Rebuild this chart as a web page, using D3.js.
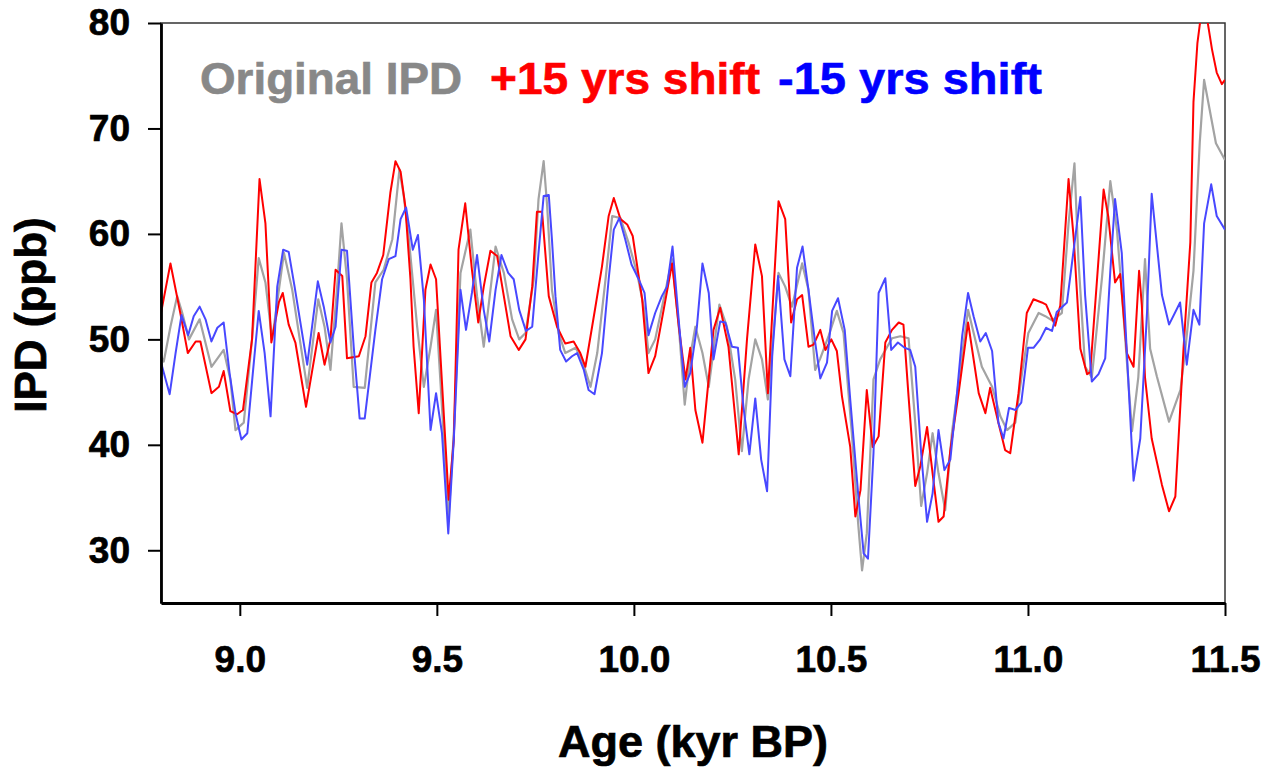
<!DOCTYPE html>
<html>
<head>
<meta charset="utf-8">
<script src="https://cdn.jsdelivr.net/npm/d3@7"></script>
<style>
  body { margin: 0; background: #fff; }
  svg text { font-family: "Liberation Sans", Arial, sans-serif; font-weight: bold; }
</style>
</head>
<body>
<svg id="chart"></svg>
<script>
// IPD records, age in kyr BP
const greyAge = [8.800, 8.807, 8.824, 8.841, 8.854, 8.871, 8.898, 8.928, 8.959, 8.976, 8.989, 9.010, 9.031, 9.048, 9.065, 9.082, 9.112, 9.133, 9.171, 9.199, 9.215, 9.230, 9.247, 9.258, 9.272, 9.289, 9.317, 9.344, 9.365, 9.387, 9.405, 9.416, 9.429, 9.450, 9.467, 9.484, 9.498, 9.513, 9.530, 9.543, 9.560, 9.585, 9.602, 9.619, 9.649, 9.670, 9.691, 9.709, 9.725, 9.746, 9.758, 9.771, 9.780, 9.792, 9.809, 9.826, 9.852, 9.868, 9.890, 9.907, 9.928, 9.945, 9.966, 9.987, 10.008, 10.025, 10.037, 10.054, 10.097, 10.114, 10.129, 10.143, 10.156, 10.174, 10.190, 10.217, 10.236, 10.257, 10.274, 10.291, 10.308, 10.325, 10.340, 10.367, 10.384, 10.401, 10.427, 10.443, 10.460, 10.473, 10.494, 10.515, 10.532, 10.553, 10.569, 10.579, 10.591, 10.608, 10.625, 10.655, 10.676, 10.697, 10.714, 10.729, 10.744, 10.758, 10.773, 10.790, 10.807, 10.848, 10.866, 10.883, 10.909, 10.930, 10.947, 10.968, 10.985, 11.001, 11.027, 11.044, 11.061, 11.086, 11.103, 11.118, 11.128, 11.145, 11.162, 11.188, 11.209, 11.226, 11.242, 11.264, 11.280, 11.297, 11.310, 11.327, 11.358, 11.387, 11.400, 11.420, 11.436, 11.447, 11.477, 11.500];
const greyIPD = [48.4, 47.9, 51.2, 54.1, 52.5, 50.0, 51.9, 47.4, 49.0, 46.2, 41.4, 42.1, 50.0, 57.7, 55.4, 50.0, 58.2, 54.7, 45.4, 53.8, 51.2, 47.1, 55.0, 61.0, 55.7, 45.5, 45.4, 55.4, 56.6, 59.5, 66.1, 63.6, 59.5, 51.2, 45.5, 49.3, 52.8, 43.6, 33.2, 41.1, 56.3, 60.4, 54.1, 49.3, 58.8, 56.3, 51.9, 50.0, 50.6, 55.7, 63.3, 66.9, 62.6, 54.7, 50.6, 48.7, 49.2, 48.1, 45.5, 48.7, 55.7, 61.7, 61.5, 59.1, 56.3, 53.1, 48.7, 50.0, 57.6, 51.2, 43.8, 48.4, 51.2, 48.7, 45.5, 53.3, 51.2, 46.2, 39.4, 46.2, 50.0, 48.1, 44.3, 56.3, 55.0, 53.1, 57.2, 54.7, 47.1, 48.2, 50.3, 52.7, 50.6, 41.1, 32.6, 28.1, 31.6, 46.2, 48.1, 50.1, 50.3, 50.1, 42.1, 34.2, 37.3, 41.1, 37.3, 33.8, 41.1, 52.8, 50.0, 47.4, 45.5, 42.7, 41.4, 42.1, 46.8, 50.6, 52.5, 52.2, 51.8, 52.5, 61.0, 66.7, 57.6, 47.4, 46.4, 55.9, 65.0, 60.3, 52.5, 41.3, 46.4, 57.6, 49.1, 46.5, 42.2, 45.2, 49.3, 56.5, 68.7, 74.6, 68.6, 67.0];

const plusAge = [8.800, 8.824, 8.849, 8.868, 8.888, 8.900, 8.928, 8.947, 8.959, 8.976, 8.993, 9.008, 9.031, 9.050, 9.065, 9.080, 9.099, 9.109, 9.124, 9.141, 9.168, 9.184, 9.200, 9.215, 9.230, 9.243, 9.260, 9.272, 9.302, 9.319, 9.334, 9.348, 9.364, 9.382, 9.395, 9.408, 9.420, 9.433, 9.441, 9.454, 9.471, 9.484, 9.498, 9.513, 9.530, 9.543, 9.555, 9.572, 9.589, 9.605, 9.619, 9.636, 9.653, 9.670, 9.687, 9.708, 9.725, 9.742, 9.754, 9.767, 9.784, 9.805, 9.826, 9.847, 9.864, 9.877, 9.902, 9.919, 9.936, 9.949, 9.966, 9.983, 9.997, 10.021, 10.037, 10.054, 10.097, 10.114, 10.131, 10.143, 10.156, 10.174, 10.202, 10.219, 10.240, 10.266, 10.287, 10.308, 10.325, 10.340, 10.367, 10.384, 10.399, 10.414, 10.427, 10.443, 10.456, 10.473, 10.486, 10.501, 10.515, 10.528, 10.549, 10.562, 10.575, 10.591, 10.606, 10.621, 10.638, 10.655, 10.672, 10.684, 10.697, 10.714, 10.727, 10.744, 10.758, 10.773, 10.786, 10.803, 10.824, 10.848, 10.875, 10.892, 10.904, 10.925, 10.942, 10.955, 10.976, 10.997, 11.014, 11.035, 11.046, 11.069, 11.082, 11.103, 11.116, 11.133, 11.150, 11.158, 11.192, 11.204, 11.221, 11.234, 11.251, 11.268, 11.282, 11.289, 11.297, 11.314, 11.340, 11.358, 11.374, 11.395, 11.412, 11.420, 11.430, 11.440, 11.452, 11.467, 11.479, 11.492, 11.500];
const plusIPD = [52.5, 57.2, 52.5, 48.7, 49.8, 49.8, 44.9, 45.5, 47.0, 43.2, 42.9, 43.3, 50.0, 65.2, 61.0, 49.7, 53.5, 54.4, 51.4, 49.7, 43.6, 47.1, 50.6, 47.6, 50.0, 56.6, 56.0, 48.2, 48.4, 50.3, 55.4, 56.3, 58.0, 63.9, 66.9, 65.9, 62.6, 55.7, 49.3, 43.0, 54.7, 57.1, 55.7, 45.9, 34.8, 40.5, 58.5, 62.9, 56.6, 51.6, 55.0, 58.4, 57.9, 54.1, 50.3, 49.0, 50.0, 55.0, 62.1, 62.1, 54.1, 51.2, 49.6, 49.8, 48.7, 47.4, 53.0, 56.9, 61.7, 63.4, 61.4, 60.9, 59.8, 53.8, 46.8, 48.4, 57.2, 51.2, 46.2, 49.2, 43.3, 40.2, 50.9, 53.0, 49.3, 39.1, 50.0, 59.0, 56.0, 44.9, 63.1, 61.4, 51.6, 53.8, 54.2, 49.3, 49.5, 50.9, 49.0, 50.0, 48.9, 44.6, 39.8, 33.2, 35.7, 45.2, 39.8, 40.8, 49.7, 50.9, 51.6, 51.4, 44.6, 36.1, 38.0, 41.7, 37.3, 32.7, 33.2, 39.5, 44.9, 51.6, 44.9, 43.0, 45.4, 42.1, 39.5, 39.2, 44.9, 52.5, 53.8, 53.5, 53.3, 51.3, 53.2, 65.2, 59.6, 49.1, 46.7, 46.9, 64.2, 61.6, 55.4, 56.2, 48.7, 47.4, 56.5, 53.2, 46.4, 40.6, 36.2, 33.7, 35.1, 49.3, 59.2, 72.5, 78.1, 81.0, 81.0, 77.5, 75.3, 74.2, 74.6];

const minusAge = [8.800, 8.822, 8.837, 8.852, 8.869, 8.883, 8.898, 8.913, 8.928, 8.943, 8.959, 8.974, 8.989, 9.004, 9.019, 9.033, 9.048, 9.063, 9.078, 9.095, 9.110, 9.124, 9.139, 9.171, 9.198, 9.213, 9.230, 9.243, 9.258, 9.272, 9.289, 9.304, 9.317, 9.344, 9.361, 9.378, 9.395, 9.408, 9.422, 9.439, 9.452, 9.467, 9.484, 9.498, 9.513, 9.529, 9.543, 9.560, 9.574, 9.589, 9.602, 9.619, 9.633, 9.649, 9.664, 9.681, 9.695, 9.709, 9.726, 9.742, 9.758, 9.771, 9.784, 9.792, 9.801, 9.813, 9.828, 9.843, 9.856, 9.873, 9.885, 9.900, 9.919, 9.936, 9.949, 9.963, 9.978, 9.994, 10.011, 10.027, 10.037, 10.054, 10.071, 10.084, 10.098, 10.114, 10.129, 10.143, 10.160, 10.174, 10.190, 10.202, 10.219, 10.232, 10.249, 10.264, 10.278, 10.293, 10.308, 10.323, 10.338, 10.351, 10.366, 10.382, 10.397, 10.414, 10.428, 10.443, 10.459, 10.473, 10.490, 10.503, 10.518, 10.535, 10.549, 10.569, 10.583, 10.594, 10.608, 10.621, 10.638, 10.653, 10.670, 10.687, 10.701, 10.714, 10.729, 10.744, 10.758, 10.773, 10.788, 10.803, 10.820, 10.833, 10.848, 10.862, 10.879, 10.893, 10.909, 10.925, 10.938, 10.952, 10.968, 10.983, 11.000, 11.014, 11.031, 11.046, 11.061, 11.073, 11.099, 11.133, 11.145, 11.162, 11.179, 11.196, 11.209, 11.221, 11.238, 11.251, 11.268, 11.285, 11.302, 11.314, 11.340, 11.358, 11.386, 11.403, 11.420, 11.435, 11.447, 11.465, 11.479, 11.500];
const minusIPD = [47.8, 44.8, 48.7, 52.3, 50.4, 52.2, 53.1, 51.9, 49.8, 51.1, 51.6, 46.8, 43.0, 40.5, 41.1, 46.8, 52.7, 48.7, 42.7, 55.0, 58.5, 58.3, 55.0, 47.6, 55.5, 53.1, 49.7, 51.2, 58.5, 58.4, 49.3, 42.5, 42.5, 50.9, 55.7, 57.6, 57.9, 61.4, 62.5, 58.5, 59.9, 53.8, 41.4, 44.9, 41.1, 31.6, 40.5, 54.7, 50.9, 54.4, 58.0, 52.8, 49.8, 54.7, 58.0, 56.3, 55.7, 52.8, 50.8, 51.2, 58.2, 63.6, 63.7, 59.5, 54.1, 49.0, 47.9, 48.4, 48.7, 47.1, 45.2, 44.8, 48.7, 55.7, 60.4, 61.5, 59.5, 57.1, 55.8, 54.4, 50.4, 52.5, 54.1, 55.0, 58.8, 51.7, 45.5, 46.8, 51.2, 57.2, 54.4, 48.1, 51.7, 51.6, 49.3, 49.2, 43.6, 39.1, 44.4, 38.6, 35.6, 48.4, 56.0, 48.1, 46.5, 56.8, 58.8, 54.7, 50.0, 46.3, 47.8, 52.7, 53.9, 50.9, 44.3, 35.4, 29.7, 29.2, 39.2, 54.4, 55.8, 49.0, 49.7, 49.2, 49.0, 47.4, 39.2, 32.7, 35.4, 41.4, 37.6, 38.6, 44.9, 50.3, 54.4, 52.2, 49.8, 50.6, 48.9, 42.1, 40.6, 43.5, 43.3, 44.0, 49.2, 49.2, 50.0, 51.1, 50.8, 52.6, 53.5, 63.5, 54.2, 46.0, 46.7, 48.2, 56.5, 63.3, 58.2, 48.7, 36.6, 40.6, 52.5, 63.8, 54.2, 51.4, 53.5, 47.6, 52.8, 51.4, 61.0, 64.7, 61.7, 60.4];

const xTicks = [9.0, 9.5, 10.0, 10.5, 11.0, 11.5];
const yTicks = [30, 40, 50, 60, 70, 80];
const legendLabels = ['Original IPD', '+15 yrs shift', '-15 yrs shift'];

class ipdChart {

    constructor(_config) {
        this.config = {
            parentElement: _config.parentElement,
            containerWidth: _config.containerWidth || 1277,
            containerHeight: _config.containerHeight || 771,
            margin: _config.margin || { top: 23, right: 52, bottom: 168, left: 161 }
        };
        this.initVis();
    }

    initVis() {
        let vis = this;

        vis.width = vis.config.containerWidth - vis.config.margin.left - vis.config.margin.right;
        vis.height = vis.config.containerHeight - vis.config.margin.top - vis.config.margin.bottom;

        vis.svg = d3.select(vis.config.parentElement)
            .attr('width', vis.config.containerWidth)
            .attr('height', vis.config.containerHeight);

        vis.xScale = d3.scaleLinear().domain([8.8, 11.5]).range([0, vis.width]);
        vis.yScale = d3.scaleLinear().domain([25, 80]).range([vis.height, 0]);

        vis.chart = vis.svg.append('g')
            .attr('transform', `translate(${vis.config.margin.left},${vis.config.margin.top})`);

        vis.chart.append('clipPath').attr('id', 'plot-clip')
            .append('rect').attr('width', vis.width).attr('height', vis.height);

        // thin frame on top / right
        vis.chart.append('rect')
            .attr('width', vis.width)
            .attr('height', vis.height)
            .attr('fill', 'none')
            .attr('stroke', '#333')
            .attr('stroke-width', 1.5);

        vis.line = d3.line()
            .x(d => vis.xScale(d[0]))
            .y(d => vis.yScale(d[1]));

        vis.updateVis();
    }

    updateVis() {
        let vis = this;
        vis.series = [
            { color: '#a3a3a3', width: 2.2, pts: d3.zip(greyAge, greyIPD) },
            { color: '#ff0000', width: 2, pts: d3.zip(plusAge, plusIPD) },
            { color: '#4848ff', width: 2, pts: d3.zip(minusAge, minusIPD) }
        ];
        vis.renderVis();
    }

    renderVis() {
        let vis = this;

        vis.chart.append('g')
            .attr('clip-path', 'url(#plot-clip)')
            .selectAll('path')
            .data(vis.series)
            .join('path')
            .attr('fill', 'none')
            .attr('stroke', d => d.color)
            .attr('stroke-width', d => d.width)
            .attr('stroke-linejoin', 'round')
            .attr('d', d => vis.line(d.pts));

        const xAxis = d3.axisBottom(vis.xScale)
            .tickValues(xTicks)
            .tickFormat(d3.format('.1f'))
            .tickSizeInner(13)
            .tickSizeOuter(0)
            .tickPadding(30);

        const yAxis = d3.axisLeft(vis.yScale)
            .tickValues(yTicks)
            .tickSizeInner(13)
            .tickSizeOuter(0)
            .tickPadding(18);

        const xg = vis.chart.append('g')
            .attr('transform', `translate(0,${vis.height})`)
            .call(xAxis);
        const yg = vis.chart.append('g').call(yAxis);

        [xg, yg].forEach(g => {
            g.select('.domain').attr('stroke', '#000').attr('stroke-width', 2.8);
            g.selectAll('.tick line').attr('stroke', '#000').attr('stroke-width', 2);
            g.selectAll('.tick text')
                .attr('fill', '#000')
                .attr('stroke', '#000')
                .attr('stroke-width', 0.7)
                .style('font-size', '37px')
                .style('font-family', '"Liberation Sans", Arial, sans-serif')
                .style('font-weight', 'bold');
        });

        // axis titles
        vis.svg.append('text')
            .attr('x', 693)
            .attr('y', 757)
            .attr('text-anchor', 'middle')
            .attr('stroke', '#000')
            .attr('stroke-width', 0.7)
            .style('font-size', '45px')
            .text('Age (kyr BP)');

        vis.svg.append('text')
            .attr('transform', 'translate(46,315) rotate(-90)')
            .attr('text-anchor', 'middle')
            .attr('stroke', '#000')
            .attr('stroke-width', 0.7)
            .style('font-size', '44px')
            .text('IPD (ppb)');

        // legend
        const legendX = [200, 490, 778];
        const legendW = [262, 270, 264];
        const legendColors = ['#888888', '#ff0000', '#0000ff'];
        vis.svg.selectAll('.legend')
            .data(legendLabels)
            .join('text')
            .attr('class', 'legend')
            .attr('x', (d, i) => legendX[i])
            .attr('y', 94)
            .attr('textLength', (d, i) => legendW[i])
            .attr('lengthAdjust', 'spacingAndGlyphs')
            .attr('fill', (d, i) => legendColors[i])
            .attr('stroke', (d, i) => legendColors[i])
            .attr('stroke-width', 0.6)
            .style('font-size', '45px')
            .text(d => d);
    }
}

new ipdChart({ parentElement: '#chart' });
</script>
</body>
</html>
